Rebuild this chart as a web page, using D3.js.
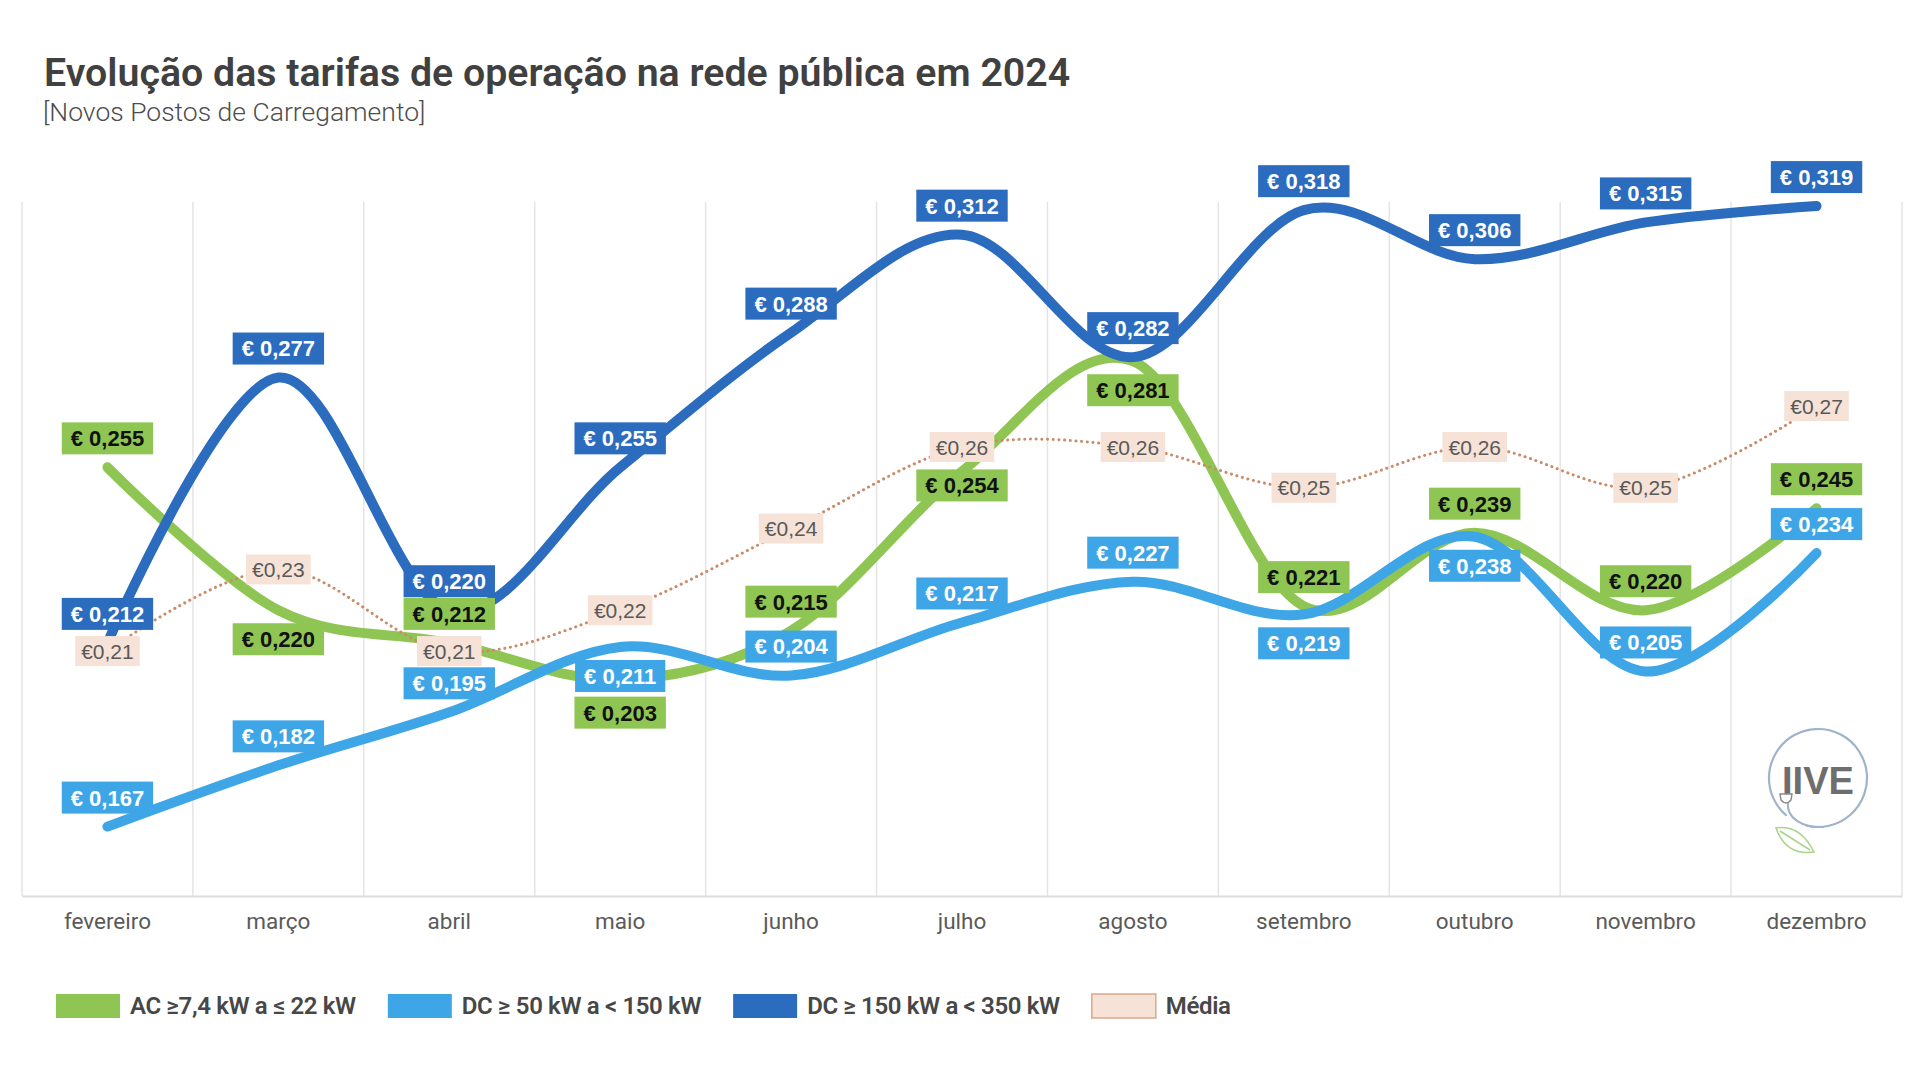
<!DOCTYPE html>
<html>
<head>
<meta charset="utf-8">
<script src="https://cdn.jsdelivr.net/npm/d3@7"></script>
<style>
  html, body { margin: 0; padding: 0; background: #fff; }
  svg { display: block; }
</style>
</head>
<body>
<script>
// data
const months = ["fevereiro", "março", "abril", "maio", "junho", "julho", "agosto", "setembro", "outubro", "novembro", "dezembro"];
const acValues = [0.255, 0.220, 0.212, 0.203, 0.215, 0.254, 0.281, 0.221, 0.239, 0.220, 0.245];
const dc50Values = [0.167, 0.182, 0.195, 0.211, 0.204, 0.217, 0.227, 0.219, 0.238, 0.205, 0.234];
const dc150Values = [0.212, 0.277, 0.220, 0.255, 0.288, 0.312, 0.282, 0.318, 0.306, 0.315, 0.319];
const mediaValues = [0.21, 0.23, 0.21, 0.22, 0.24, 0.26, 0.26, 0.25, 0.26, 0.25, 0.27];
const seriesNames = ["AC ≥7,4 kW a ≤ 22 kW", "DC ≥ 50 kW a < 150 kW", "DC ≥ 150 kW a < 350 kW", "Média"];

// where each value label sits relative to its point (px, negative = above)
const acLabelDy = [-29, 29, -29, 33, -29, 14, 29, -29, -29, -29, -29];
const dc50LabelDy = [-29, -29, -29, 29, -29, -29, -29, 29, 29, -29, -29];
const dc150LabelDy = [-29, -29, -29, -29, -29, -29, -29, -29, -29, -29, -29];
const mediaLabelDy = [0, 0, 0, 0, 0, 0, 0, 0, 0, 0, 0];

const w = 1920;
const h = 1076;
const plotLeft = 22, plotRight = 1902, plotTop = 202, plotBottom = 896;

const colors = {
  ac: "#8fc653",
  dc50: "#3ea6e6",
  dc150: "#2b6cbf",
  media: "#c98b68",
  mediaBox: "#f6e2d6"
};

const svg = d3.select("body")
  .append("svg")
  .attr("width", w)
  .attr("height", h);

// title
svg.append("text")
  .attr("x", 44)
  .attr("y", 86)
  .attr("font-family", "Roboto, sans-serif")
  .attr("font-weight", 600)
  .attr("font-size", 39.3)
  .attr("fill", "#404040")
  .text("Evolução das tarifas de operação na rede pública em 2024");

svg.append("text")
  .attr("x", 43)
  .attr("y", 121)
  .attr("font-family", "Roboto, sans-serif")
  .attr("font-weight", 300)
  .attr("font-size", 26.5)
  .attr("fill", "#4d4d4d")
  .text("[Novos Postos de Carregamento]");

const xScale = d3.scaleBand()
  .domain(months)
  .range([plotLeft, plotRight])
  .padding(0);

const yScale = d3.scaleLinear()
  .domain([0.15, 0.32])
  .range([plotBottom, plotTop]);

const cx = (m) => xScale(m) + xScale.bandwidth() / 2;

// vertical gridlines on band edges
const edges = months.map((m) => xScale(m)).concat([plotRight]);
svg.append("g")
  .attr("id", "grid")
  .selectAll("line")
  .data(edges)
  .enter()
  .append("line")
  .attr("x1", (d) => d)
  .attr("x2", (d) => d)
  .attr("y1", plotTop)
  .attr("y2", plotBottom)
  .attr("stroke", "#e4e4e4")
  .attr("stroke-width", 1.5);

const xAxis = d3.axisBottom(xScale).tickSize(0).tickPadding(17);
const gx = svg.append("g")
  .attr("id", "x-axis")
  .attr("transform", "translate(0, " + plotBottom + ")")
  .call(xAxis);
gx.select(".domain").attr("stroke", "#dcdcdc").attr("stroke-width", 2);
gx.selectAll("text")
  .attr("font-family", "Roboto, sans-serif")
  .attr("font-size", 22.5)
  .attr("fill", "#5a5a5a");

const line = d3.line()
  .x((d) => cx(d.m))
  .y((d) => yScale(d.v))
  .curve(d3.curveCardinal.tension(0));

const toPoints = (vals, dys) => vals.map((v, i) => ({ m: months[i], v: v, dy: dys[i] }));

const acData = toPoints(acValues, acLabelDy);
const dc50Data = toPoints(dc50Values, dc50LabelDy);
const dc150Data = toPoints(dc150Values, dc150LabelDy);
const mediaData = toPoints(mediaValues, mediaLabelDy);

const lines = svg.append("g").attr("id", "lines");

[[acData, colors.ac], [dc50Data, colors.dc50], [dc150Data, colors.dc150]].forEach(([data, color]) => {
  lines.append("path")
    .datum(data)
    .attr("d", line)
    .attr("fill", "none")
    .attr("stroke", color)
    .attr("stroke-width", 10)
    .attr("stroke-linecap", "round")
    .attr("stroke-linejoin", "round");
});

lines.append("path")
  .datum(mediaData)
  .attr("d", line)
  .attr("fill", "none")
  .attr("stroke", colors.media)
  .attr("stroke-width", 3)
  .attr("stroke-dasharray", "0.1 5.6")
  .attr("stroke-linecap", "round");

// value labels
const euro3 = (v) => "€ " + v.toFixed(3).replace(".", ",");
const euro2 = (v) => "€" + v.toFixed(2).replace(".", ",");

function drawLabels(data, fill, textColor, fmt, font) {
  const g = svg.append("g");
  const lbl = g.selectAll("g")
    .data(data)
    .enter()
    .append("g")
    .attr("transform", (d) => "translate(" + cx(d.m) + "," + (yScale(d.v) + d.dy) + ")");
  const rects = lbl.append("rect").attr("fill", fill);
  const texts = lbl.append("text")
    .attr("text-anchor", "middle")
    .attr("dy", "0.36em")
    .attr("font-family", "'Liberation Sans', Arial, sans-serif")
    .attr("font-weight", font.weight)
    .attr("font-size", font.size)
    .attr("fill", textColor)
    .text((d) => fmt(d.v));
  texts.each(function (d) {
    d.tw = this.getComputedTextLength();
  });
  rects
    .attr("x", (d) => -(d.tw / 2 + font.pad))
    .attr("width", (d) => d.tw + font.pad * 2)
    .attr("y", -font.boxH / 2)
    .attr("height", font.boxH);
}

drawLabels(mediaData, colors.mediaBox, "#595959", euro2, { weight: 400, size: 21, pad: 6, boxH: 30 });
drawLabels(acData, colors.ac, "#111", euro3, { weight: 700, size: 22, pad: 9, boxH: 32 });
drawLabels(dc50Data, colors.dc50, "#fff", euro3, { weight: 700, size: 22, pad: 9, boxH: 32 });
drawLabels(dc150Data, colors.dc150, "#fff", euro3, { weight: 700, size: 22, pad: 9, boxH: 32 });

// legend
const legendFill = [colors.ac, colors.dc50, colors.dc150, colors.mediaBox];
const legend = svg.append("g").attr("id", "legend");
let lx = 56;
seriesNames.forEach((name, i) => {
  legend.append("rect")
    .attr("x", lx)
    .attr("y", 994)
    .attr("width", 64)
    .attr("height", 24)
    .attr("fill", legendFill[i])
    .attr("stroke", i === 3 ? "#dba88b" : "none")
    .attr("stroke-width", 1.5);
  const t = legend.append("text")
    .attr("x", lx + 74)
    .attr("y", 1014)
    .attr("font-family", "Roboto, sans-serif")
    .attr("font-weight", 600)
    .attr("font-size", 24)
    .attr("letter-spacing", -0.35)
    .attr("fill", "#474747")
    .text(name);
  lx += 74 + t.node().getComputedTextLength() + 32;
});

// logo
const logo = svg.append("g").attr("id", "logo").attr("transform", "translate(1818, 778)");
logo.append("path")
  .attr("d", d3.arc()({ innerRadius: 49, outerRadius: 49, startAngle: Math.PI * 1.22, endAngle: Math.PI * 3.08 }))
  .attr("fill", "none")
  .attr("stroke", "#9fb3ca")
  .attr("stroke-width", 2.2);
logo.append("path")
  .attr("d", "M-30,24 C-32,40 -16,50 6,49")
  .attr("fill", "none")
  .attr("stroke", "#9fb3ca")
  .attr("stroke-width", 2);
logo.append("text")
  .attr("x", -36)
  .attr("y", 16)
  .attr("font-family", "'Liberation Sans Narrow', 'Liberation Sans', sans-serif")
  .attr("font-weight", 700)
  .attr("font-size", 39)
  .attr("textLength", 72)
  .attr("lengthAdjust", "spacingAndGlyphs")
  .attr("fill", "#6e6e6e")
  .text("IIVE");
logo.append("path")
  .attr("d", "M-38,16 L-26,16 L-27,22 Q-32,28 -37,22 Z")
  .attr("fill", "#fff")
  .attr("stroke", "#8a8a8a")
  .attr("stroke-width", 1.5);
logo.append("path")
  .attr("d", "M-42,50 Q-18,46 -4,74 Q-32,78 -42,50 Z M-38,53 L-8,72")
  .attr("fill", "none")
  .attr("stroke", "#a9d48e")
  .attr("stroke-width", 1.6);
</script>
</body>
</html>
